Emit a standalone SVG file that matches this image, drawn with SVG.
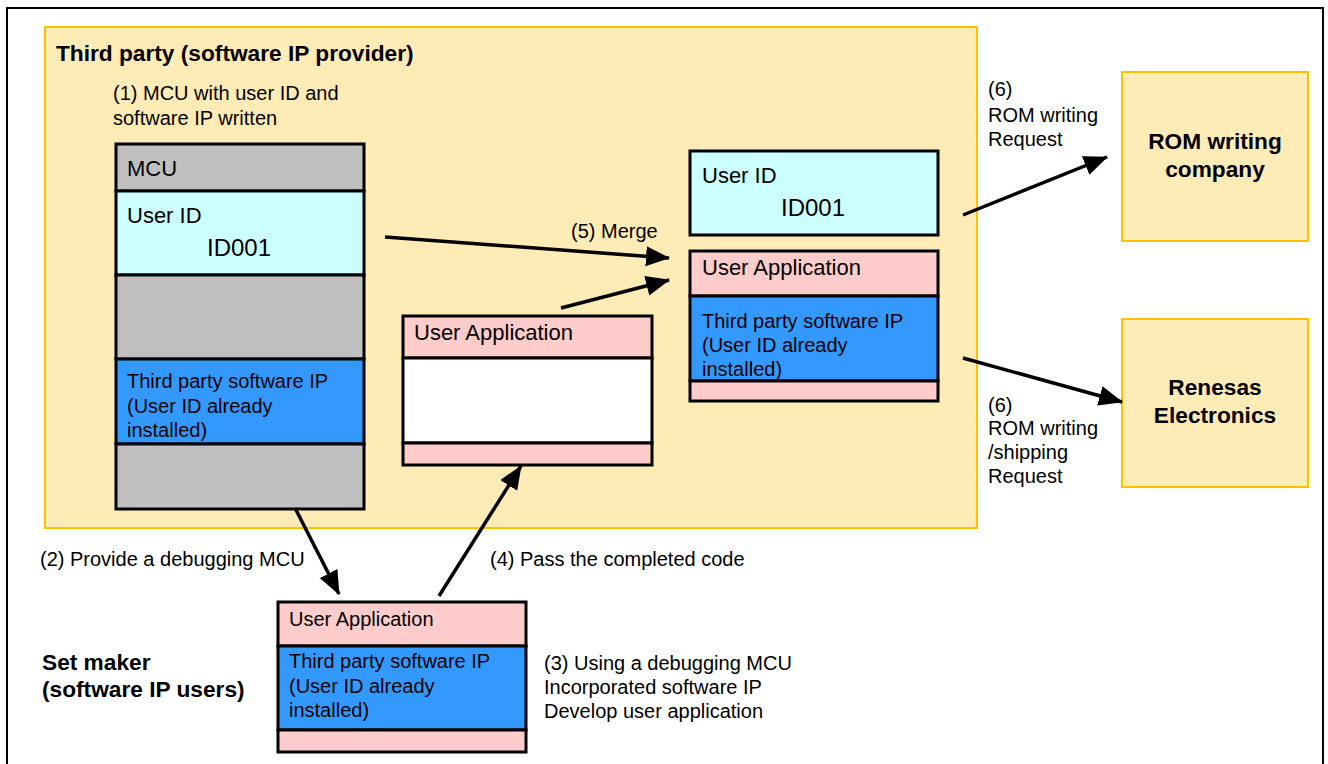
<svg xmlns="http://www.w3.org/2000/svg" width="1328" height="764" viewBox="0 0 1328 764">
<style>
text{font-family:"Liberation Sans",Arial,sans-serif;fill:#000}
.t{font-size:20px}
.h{font-size:22px}
.id{font-size:24px}
.b{font-size:22.7px;font-weight:bold}
.blk{stroke:#000;stroke-width:3}
.gray{fill:#C0C0C0}
.cyan{fill:#CCFFFF}
.blue{fill:#3399FF}
.pink{fill:#FFCCCC}
.white{fill:#FFFFFF}
.yel{fill:#FFEBB5;stroke:#FFC000;stroke-width:2}
.conn{stroke:#000;stroke-width:3.5;fill:none;marker-end:url(#ah)}
</style>
<defs>
<marker id="ah" markerUnits="userSpaceOnUse" markerWidth="26" markerHeight="22" refX="23" refY="10" orient="auto">
<path d="M0,0 L24,10 L0,20 z" fill="#000"/>
</marker>
</defs>
<rect x="0" y="0" width="1328" height="764" fill="#FFFFFF"/>
<rect x="7" y="8" width="1316" height="780" fill="none" stroke="#000" stroke-width="2"/>

<g id="third-party">
<rect class="yel" x="45" y="27" width="932" height="501"/>
<text class="b" x="56" y="61">Third party (software IP provider)</text>
<text class="t" x="113" y="100">(1) MCU with user ID and</text>
<text class="t" x="113" y="125">software IP written</text>
</g>

<g id="mcu">
<rect class="gray blk" x="116" y="144" width="248" height="47"/>
<rect class="cyan blk" x="116" y="191" width="248" height="84"/>
<rect class="gray blk" x="116" y="275" width="248" height="84"/>
<rect class="blue blk" x="116" y="359" width="248" height="85"/>
<rect class="gray blk" x="116" y="444" width="248" height="65"/>
<text class="h" x="127" y="176">MCU</text>
<text class="h" x="127" y="223">User ID</text>
<text class="id" x="207" y="256">ID001</text>
<text class="t" x="127" y="388">Third party software IP</text>
<text class="t" x="127" y="413">(User ID already</text>
<text class="t" x="127" y="437">installed)</text>
</g>

<g id="user-app-mid">
<rect class="pink blk" x="403" y="316" width="249" height="42"/>
<rect class="white blk" x="403" y="358" width="249" height="85"/>
<rect class="pink blk" x="403" y="443" width="249" height="22"/>
<text class="h" x="414" y="340">User Application</text>
</g>

<g id="merged-userid">
<rect class="cyan blk" x="690" y="151" width="248" height="84"/>
<text class="h" x="702" y="183">User ID</text>
<text class="id" x="781" y="216">ID001</text>
</g>

<g id="merged-app">
<rect class="pink blk" x="690" y="251" width="248" height="45"/>
<rect class="blue blk" x="690" y="296" width="248" height="85"/>
<rect class="pink blk" x="690" y="381" width="248" height="20"/>
<text class="h" x="702" y="275">User Application</text>
<text class="t" x="702" y="328">Third party software IP</text>
<text class="t" x="702" y="352">(User ID already</text>
<text class="t" x="702" y="376">installed)</text>
</g>

<g id="rom-company">
<rect class="yel" x="1122" y="72" width="186" height="169"/>
<text class="b" x="1215" y="149" text-anchor="middle">ROM writing</text>
<text class="b" x="1215" y="177" text-anchor="middle">company</text>
</g>

<g id="renesas">
<rect class="yel" x="1122" y="319" width="186" height="168"/>
<text class="b" x="1215" y="395" text-anchor="middle">Renesas</text>
<text class="b" x="1215" y="423" text-anchor="middle">Electronics</text>
</g>

<g id="set-maker">
<rect class="pink blk" x="278" y="602" width="248" height="44"/>
<rect class="blue blk" x="278" y="646" width="248" height="84"/>
<rect class="pink blk" x="278" y="730" width="248" height="22"/>
<text class="t" x="289" y="626">User Application</text>
<text class="t" x="289" y="668">Third party software IP</text>
<text class="t" x="289" y="693">(User ID already</text>
<text class="t" x="289" y="717">installed)</text>
<text class="b" x="42" y="670">Set maker</text>
<text class="b" x="42" y="697">(software IP users)</text>
<text class="t" x="544" y="670">(3) Using a debugging MCU</text>
<text class="t" x="544" y="694">Incorporated software IP</text>
<text class="t" x="544" y="718">Develop user application</text>
</g>

<g id="connectors">
<line class="conn" x1="385" y1="237" x2="669" y2="258"/>
<line class="conn" x1="561" y1="308" x2="669" y2="280"/>
<line class="conn" x1="963" y1="215" x2="1107" y2="157"/>
<line class="conn" x1="963" y1="358" x2="1122" y2="402"/>
<line class="conn" x1="295" y1="508" x2="339" y2="594"/>
<line class="conn" x1="439" y1="596" x2="521" y2="466"/>
<text class="t" x="571" y="238">(5) Merge</text>
<text class="t" x="988" y="96">(6)</text>
<text class="t" x="988" y="122">ROM writing</text>
<text class="t" x="988" y="146">Request</text>
<text class="t" x="988" y="412">(6)</text>
<text class="t" x="988" y="435">ROM writing</text>
<text class="t" x="988" y="459">/shipping</text>
<text class="t" x="988" y="483">Request</text>
<text class="t" x="40" y="566">(2) Provide a debugging MCU</text>
<text class="t" x="490" y="566">(4) Pass the completed code</text>
</g>
</svg>
